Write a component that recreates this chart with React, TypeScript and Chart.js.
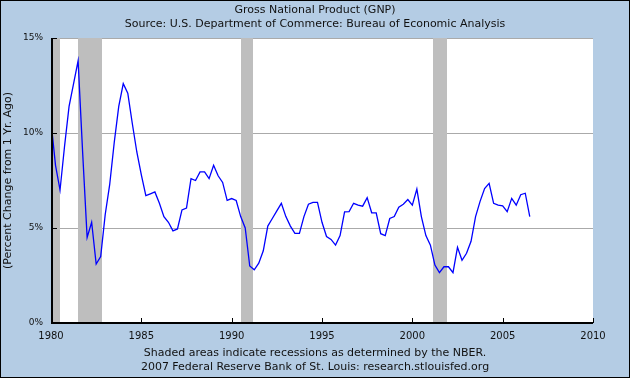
import React, { useEffect, useRef } from "react";
import { Chart, registerables } from "chart.js";

Chart.register(...registerables);

// ---- data (quarterly, percent change from one year ago), starting 1980 Q1 ----
const startYear = 1980;
const quartersPerYear = 4;
const gnpChange = [
  10.6, 8.3, 7.0, 9.3, 11.4, 12.6, 13.8, 9.0, 4.5, 5.3, 3.1, 3.5,
  5.7, 7.3, 9.5, 11.4, 12.6, 12.1, 10.5, 9.0, 7.8, 6.7, 6.8, 6.9,
  6.3, 5.6, 5.3, 4.85, 4.95, 5.95, 6.05, 7.6, 7.5, 7.95, 7.95, 7.6,
  8.3, 7.75, 7.4, 6.45, 6.55, 6.45, 5.6, 5.0, 3.0, 2.8, 3.15, 3.8,
  5.1, 5.5, 5.9, 6.3, 5.6, 5.1, 4.72, 4.72, 5.6, 6.25, 6.35, 6.35,
  5.3, 4.55, 4.4, 4.1, 4.6, 5.85, 5.86, 6.3, 6.2, 6.15, 6.6, 5.8,
  5.8, 4.7, 4.6, 5.5, 5.6, 6.1, 6.25, 6.5, 6.2, 7.05, 5.6, 4.6,
  4.1, 3.05, 2.65, 2.96, 2.96, 2.65, 3.98, 3.3, 3.67, 4.3, 5.6, 6.4,
  7.08, 7.35, 6.3, 6.2, 6.16, 5.86, 6.56, 6.2, 6.75, 6.83, 5.6,
];
const recessionStarts = [1980.0, 1981.5, 1990.5, 2001.17];
const recessionEnds = [1980.5, 1982.83, 1991.17, 2001.92];
const xTickYears = [1980, 1985, 1990, 1995, 2000, 2005, 2010];
const yTickValues = [0, 5, 10, 15];
const titleLines = [
  "Gross National Product (GNP)",
  "Source: U.S. Department of Commerce: Bureau of Economic Analysis",
];
const footerLines = [
  "Shaded areas indicate recessions as determined by the NBER.",
  "2007 Federal Reserve Bank of St. Louis: research.stlouisfed.org",
];
const yAxisTitle = "(Percent Change from 1 Yr. Ago)";

const FONT = '"DejaVu Sans", Verdana, sans-serif';
const TEXT = "#111111";
const BG = "#b4cce4";

const framePlugin = {
  id: "fredFrame",
  beforeDraw(chart: any) {
    const { ctx, chartArea: a, width, height } = chart;
    ctx.save();
    ctx.fillStyle = BG;
    ctx.fillRect(0, 0, width, height);
    ctx.fillStyle = "#ffffff";
    ctx.fillRect(a.left, a.top, a.right - a.left, a.bottom - a.top);
    ctx.strokeStyle = "#000000";
    ctx.lineWidth = 1;
    ctx.strokeRect(0.5, 0.5, width - 1, height - 1);
    ctx.fillStyle = TEXT;
    ctx.font = `11px ${FONT}`;
    ctx.textAlign = "center";
    ctx.textBaseline = "middle";
    ctx.fillText(titleLines[0], width / 2, 10);
    ctx.fillText(titleLines[1], width / 2, 24);
    ctx.fillText(footerLines[0], width / 2, 353);
    ctx.fillText(footerLines[1], width / 2, 367);
    ctx.restore();
  },
  beforeDatasetsDraw(chart: any) {
    const { ctx, chartArea: a } = chart;
    const xs = chart.scales.x;
    ctx.save();
    ctx.fillStyle = "#bebebe";
    recessionStarts.forEach((s, i) => {
      const x0 = Math.max(a.left, xs.getPixelForValue(s));
      const x1 = Math.min(a.right, xs.getPixelForValue(recessionEnds[i]));
      ctx.fillRect(Math.round(x0), a.top, Math.round(x1) - Math.round(x0), a.bottom - a.top);
    });
    ctx.restore();
  },
  afterDatasetsDraw(chart: any) {
    const { ctx, chartArea: a } = chart;
    const xs = chart.scales.x;
    const ys = chart.scales.y;
    ctx.save();
    ctx.strokeStyle = "#000000";
    ctx.lineWidth = 2;
    ctx.beginPath();
    ctx.moveTo(a.left + 1, a.top);
    ctx.lineTo(a.left + 1, a.bottom);
    ctx.lineTo(a.right, a.bottom);
    ctx.stroke();
    ctx.lineWidth = 1;
    ctx.beginPath();
    xTickYears.forEach((yr) => {
      const x = Math.round(xs.getPixelForValue(yr)) + 0.5;
      if (yr === xTickYears[0]) return;
      ctx.moveTo(x, a.bottom);
      ctx.lineTo(x, a.bottom - 5);
    });
    yTickValues.forEach((v) => {
      if (v === 0) return;
      const y = Math.round(ys.getPixelForValue(v)) + 0.5;
      ctx.moveTo(a.left, y);
      ctx.lineTo(a.left + 6, y);
    });
    ctx.stroke();
    ctx.restore();
  },
};

export default function App() {
  const ref = useRef<HTMLCanvasElement | null>(null);

  useEffect(() => {
    document.body.style.margin = "0";
    const canvas = ref.current;
    if (!canvas) return;
    const points = gnpChange.map((v, i) => ({ x: startYear + i / quartersPerYear, y: v }));
    const chart = new Chart(canvas, {
      type: "line",
      data: {
        datasets: [
          {
            label: "GNP",
            data: points,
            borderColor: "#0000ff",
            borderWidth: 1.3,
            pointRadius: 0,
            tension: 0,
            fill: false,
          },
        ],
      },
      options: {
        animation: false,
        responsive: false,
        devicePixelRatio: 1,
        layout: { padding: { left: 0, top: 38, right: 37, bottom: 0 } },
        plugins: { legend: { display: false }, tooltip: { enabled: false }, title: { display: false } },
        scales: {
          x: {
            type: "linear",
            min: 1980,
            max: 2010,
            afterBuildTicks: (s: any) => {
              s.ticks = xTickYears.map((v) => ({ value: v }));
            },
            afterFit: (s: any) => {
              s.height = 55;
            },
            grid: { display: false, drawTicks: false },
            border: { display: false },
            ticks: {
              autoSkip: false,
              maxRotation: 0,
              padding: 7,
              color: TEXT,
              font: { family: FONT, size: 10 },
              callback: (v: any) => String(v),
            },
          },
          y: {
            type: "linear",
            min: 0,
            max: 15,
            afterBuildTicks: (s: any) => {
              s.ticks = yTickValues.map((v) => ({ value: v }));
            },
            afterFit: (s: any) => {
              s.width = 51;
            },
            grid: {
              drawTicks: false,
              lineWidth: 1,
              color: (c: any) => (c.tick && c.tick.value === 0 ? "rgba(0,0,0,0)" : "#aaaaaa"),
            },
            border: { display: false },
            ticks: {
              padding: 8,
              color: TEXT,
              font: { family: FONT, size: 9 },
              callback: (v: any) => `${v}%`,
            },
            title: {
              display: true,
              text: yAxisTitle,
              color: TEXT,
              font: { family: FONT, size: 11 },
              padding: { top: 2, bottom: 0 },
            },
          },
        },
      },
      plugins: [framePlugin],
    });
    return () => chart.destroy();
  }, []);

  return (
    <div style={{ width: 630, height: 378 }}>
      <canvas ref={ref} width={630} height={378} style={{ display: "block" }} />
    </div>
  );
}
